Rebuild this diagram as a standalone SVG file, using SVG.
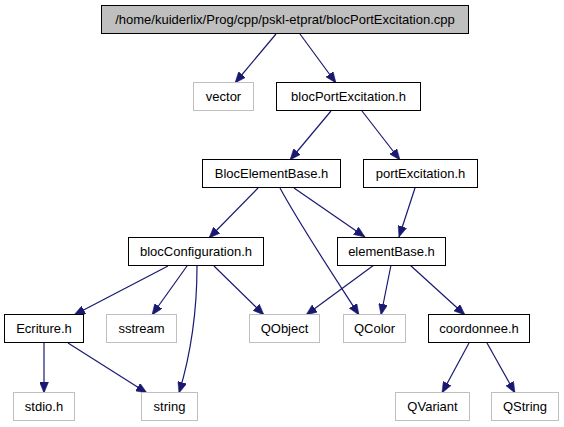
<svg xmlns="http://www.w3.org/2000/svg" width="564" height="427" viewBox="0 0 564 427">
<style>
  .n rect { fill: #ffffff; stroke: #000000; stroke-width: 1; }
  .g rect { fill: #ffffff; stroke: #bfbfbf; stroke-width: 1; }
  .root rect { fill: #bfbfbf; stroke: #000000; stroke-width: 1; }
  text { font-family: "Liberation Sans", Arial, Helvetica, sans-serif; font-size: 13px; fill: #000000; text-anchor: middle; }
  .e path { fill: none; stroke: #191970; stroke-width: 1.2; marker-end: url(#ah); }
</style>
<defs>
  <marker id="ah" markerUnits="userSpaceOnUse" markerWidth="12" markerHeight="9" refX="11" refY="4.5" orient="auto">
    <path d="M0,0 L11,4.5 L0,9 z" fill="#191970" stroke="#191970" stroke-width="0.5"/>
  </marker>
</defs>
<rect width="564" height="427" fill="#ffffff"/>
<g class="e" id="edges">
  <path d="M276,34 L235,83"/>
  <path d="M300,34 L336,83"/>
  <path d="M331,111 L290,160"/>
  <path d="M362,111 L400,160"/>
  <path d="M258,188 L209,238"/>
  <path d="M294,188 L365,237"/>
  <path d="M280,188 C300,225 330,270 359,315"/>
  <path d="M415,188 L399,237"/>
  <path d="M168,266 L74,315"/>
  <path d="M187,266 L152,315"/>
  <path d="M197,266 C197,310 192,350 179,393"/>
  <path d="M214,266 L264,315"/>
  <path d="M374,265 L306,315"/>
  <path d="M391,265 L381,315"/>
  <path d="M410,265 L465,315"/>
  <path d="M44,343 L44,393"/>
  <path d="M68,343 L147,393"/>
  <path d="M469,343 L442,393"/>
  <path d="M487,343 L515,393"/>
</g>
<g id="n_root" class="root"><rect x="101.5" y="5.5" width="367" height="28"/><text x="285" y="24">/home/kuiderlix/Prog/cpp/pskl-etprat/blocPortExcitation.cpp</text></g>
<g id="n_vector" class="g"><rect x="193.5" y="82.5" width="60" height="28"/><text x="223.5" y="101">vector</text></g>
<g id="n_blocPortExcitation_h" class="n"><rect x="276.5" y="82.5" width="144" height="28"/><text x="348.5" y="101">blocPortExcitation.h</text></g>
<g id="n_BlocElementBase_h" class="n"><rect x="202.5" y="159.5" width="138" height="28"/><text x="271.5" y="178">BlocElementBase.h</text></g>
<g id="n_portExcitation_h" class="n"><rect x="363.5" y="159.5" width="114" height="28"/><text x="420.5" y="178">portExcitation.h</text></g>
<g id="n_blocConfiguration_h" class="n"><rect x="128.5" y="237.5" width="135" height="28"/><text x="196" y="256">blocConfiguration.h</text></g>
<g id="n_elementBase_h" class="n"><rect x="337.5" y="237.5" width="108" height="28"/><text x="391.5" y="256">elementBase.h</text></g>
<g id="n_Ecriture_h" class="n"><rect x="4.5" y="314.5" width="79" height="28"/><text x="44" y="333">Ecriture.h</text></g>
<g id="n_sstream" class="g"><rect x="106.5" y="314.5" width="70" height="28"/><text x="141.5" y="333">sstream</text></g>
<g id="n_QObject" class="g"><rect x="249.5" y="314.5" width="70" height="28"/><text x="284.5" y="333">QObject</text></g>
<g id="n_QColor" class="g"><rect x="343.5" y="314.5" width="62" height="28"/><text x="374.5" y="333">QColor</text></g>
<g id="n_coordonnee_h" class="n"><rect x="428.5" y="314.5" width="101" height="28"/><text x="479" y="333">coordonnee.h</text></g>
<g id="n_stdio_h" class="g"><rect x="13.5" y="392.5" width="61" height="28"/><text x="44" y="411">stdio.h</text></g>
<g id="n_string" class="g"><rect x="141.5" y="392.5" width="56" height="28"/><text x="169.5" y="411">string</text></g>
<g id="n_QVariant" class="g"><rect x="395.5" y="392.5" width="74" height="28"/><text x="432.5" y="411">QVariant</text></g>
<g id="n_QString" class="g"><rect x="491.5" y="392.5" width="67" height="28"/><text x="525" y="411">QString</text></g>
</svg>
